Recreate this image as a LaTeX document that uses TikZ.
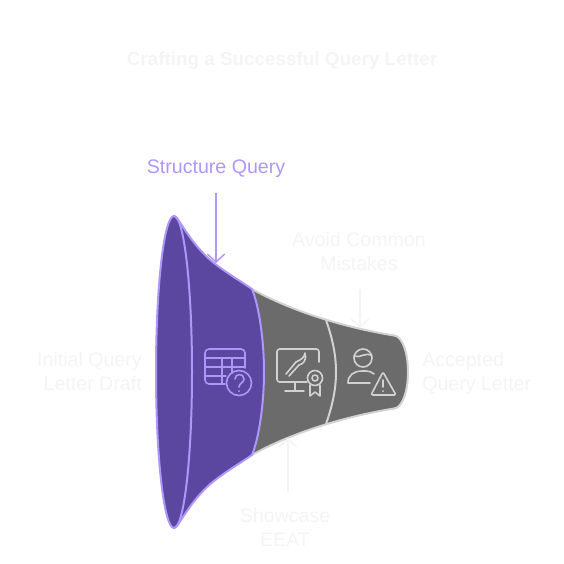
\documentclass[tikz,border=0pt]{standalone}
\usepackage{fontspec}
\setmainfont{Liberation Sans}
\usepackage{xcolor}
\usetikzlibrary{arrows.meta, positioning, calc}
\definecolor{ghosttext}{HTML}{F4F4F4}
\definecolor{lilac}{HTML}{AE97FB}
\definecolor{deeppurple}{HTML}{5B479F}
\definecolor{stagegray}{HTML}{6B6B6B}
\definecolor{stageline}{HTML}{D2D2D2}

\begin{document}
\begin{tikzpicture}[
  x=0.75pt, y=-0.75pt,
  lbl/.style={font=\fontsize{14.7}{18}\selectfont, text=ghosttext, inner sep=0pt},
  ttl/.style={font=\fontsize{14.15}{18}\selectfont\bfseries, text=ghosttext, inner sep=0pt},
  arrow/.style={-{Straight Barb[length=6pt, width=13pt, line width=1.1pt]}, line width=1.1pt, shorten <=1pt},
  stage/.style={draw=stageline, fill=stagegray, line width=1.5pt, line join=round},
  first/.style={draw=lilac, fill=deeppurple, line width=1.5pt, line join=round},
  iconp/.style={draw=lilac, line width=1.2pt, line join=round, line cap=round},
  icong/.style={draw=stageline, line width=1.2pt, line join=round, line cap=round}
]
\useasboundingbox (0,0) rectangle (564,564);

% funnel outline points
\coordinate (rimtop) at (174,216);
\coordinate (rimbot) at (174,528);
\coordinate (atop) at (252,289);
\coordinate (abot) at (252,455);
\coordinate (btop) at (326,320);
\coordinate (bbot) at (326,424);
\coordinate (ctop) at (394,335.5);
\coordinate (cbot) at (394,408.5);

% grey part
\draw[stage] (atop) .. controls (280,305) and (330,325) .. (ctop)
  .. controls (402,336) and (408,352) .. (408,372)
  .. controls (408,392) and (402,408) .. (cbot)
  .. controls (330,419) and (280,439) .. (abot) -- cycle;
\draw[stage, fill=none] (btop) .. controls (333,340) and (336,356) .. (336,372)
  .. controls (336,388) and (333,404) .. (bbot);

% purple part
\draw[first] (rimtop) .. controls (178,216) and (186,236) .. (205,255)
  .. controls (218,268) and (236,278) .. (atop)
  .. controls (259,306) and (264,340) .. (264,372)
  .. controls (264,404) and (259,438) .. (abot)
  .. controls (236,466) and (218,476) .. (205,489)
  .. controls (186,508) and (178,528) .. (rimbot)
  .. controls (164,528) and (156,458) .. (156,372)
  .. controls (156,286) and (164,216) .. (rimtop) -- cycle;
\draw[first, fill=none] (rimtop) .. controls (184,216) and (192,286) .. (192,372)
  .. controls (192,458) and (184,528) .. (rimbot);

% table icon
\draw[iconp, rounded corners=3pt] (225,384) -- (205,384) -- (205,349) -- (245,349) -- (245,368);
\draw[iconp] (205,358) -- (245,358) (205,367) -- (245,367) (205,376) -- (226,376)
  (222,358) -- (222,384) (232,358) -- (232,373);
\draw[iconp] (239,383) circle[radius=12.5];
\draw[iconp] (235,379) .. controls (235,373) and (244,373) .. (244,379)
  .. controls (244,383) and (239,383) .. (239,387);
\fill[lilac] (239,391) circle[radius=1];

% monitor icon
\draw[icong, rounded corners=2pt] (307,382) -- (277,382) -- (277,349) -- (319,349) -- (319,362);
\draw[icong] (295,382) -- (295,391) (285,391) -- (304,391);
\draw[icong] (286,374) -- (296,362) (289,376) -- (299,365);
\draw[icong] (296,362) .. controls (302,359) and (304,358) .. (305,353)
  .. controls (307,359) and (304,364) .. (299,365);
\draw[icong] (315,378) circle[radius=7.5] (315,378) circle[radius=3];
\draw[icong] (310,385) -- (310,396) -- (315,392) -- (320,396) -- (320,385);

% person icon
\draw[icong] (363,358) circle[radius=9];
\draw[icong] (354,356) .. controls (360,359) and (366,351) .. (372,356);
\draw[icong] (370,383) -- (348,383) .. controls (348,375) and (354,371) .. (362,371)
  -- (366,371) .. controls (369,371) and (372,372) .. (374,374);
\draw[icong, rounded corners=1.5pt] (383,372) -- (396,395) -- (371,395) -- cycle;
\draw[icong] (383,380) -- (383,387);
\fill[stageline] (383,391) circle[radius=1];

% labels
\node[ttl] (title) at (282,61) {Crafting a Successful Query Letter};
\node[lbl, text=lilac] (squery) at (216,169) {Structure Query};
\node[lbl, align=center] (mistakes) at (359,251) {Avoid Common\\Mistakes};
\node[lbl, align=center] (eeat) at (285,527) {Showcase\\EEAT};
\node[lbl, align=right, anchor=east] (draft) at (142,371) {Initial Query\\Letter Draft};
\node[lbl, align=left, anchor=west] (accepted) at (422,373) {Accepted\\Query Letter};

% callouts
\coordinate (squerytip) at (216,263);
\coordinate (mistakestip) at (360,328);
\coordinate (eeattip) at (288,438);
\coordinate (squerytail) at (216,192);
\coordinate (mistakestail) at (360,288);
\coordinate (eeattail) at (288,493);
\draw[arrow, draw=lilac] (squerytail) -- (squerytip);
\draw[arrow, draw=ghosttext] (mistakestail) -- (mistakestip);
\draw[arrow, draw=ghosttext] (eeattail) -- (eeattip);
\end{tikzpicture}
\end{document}
